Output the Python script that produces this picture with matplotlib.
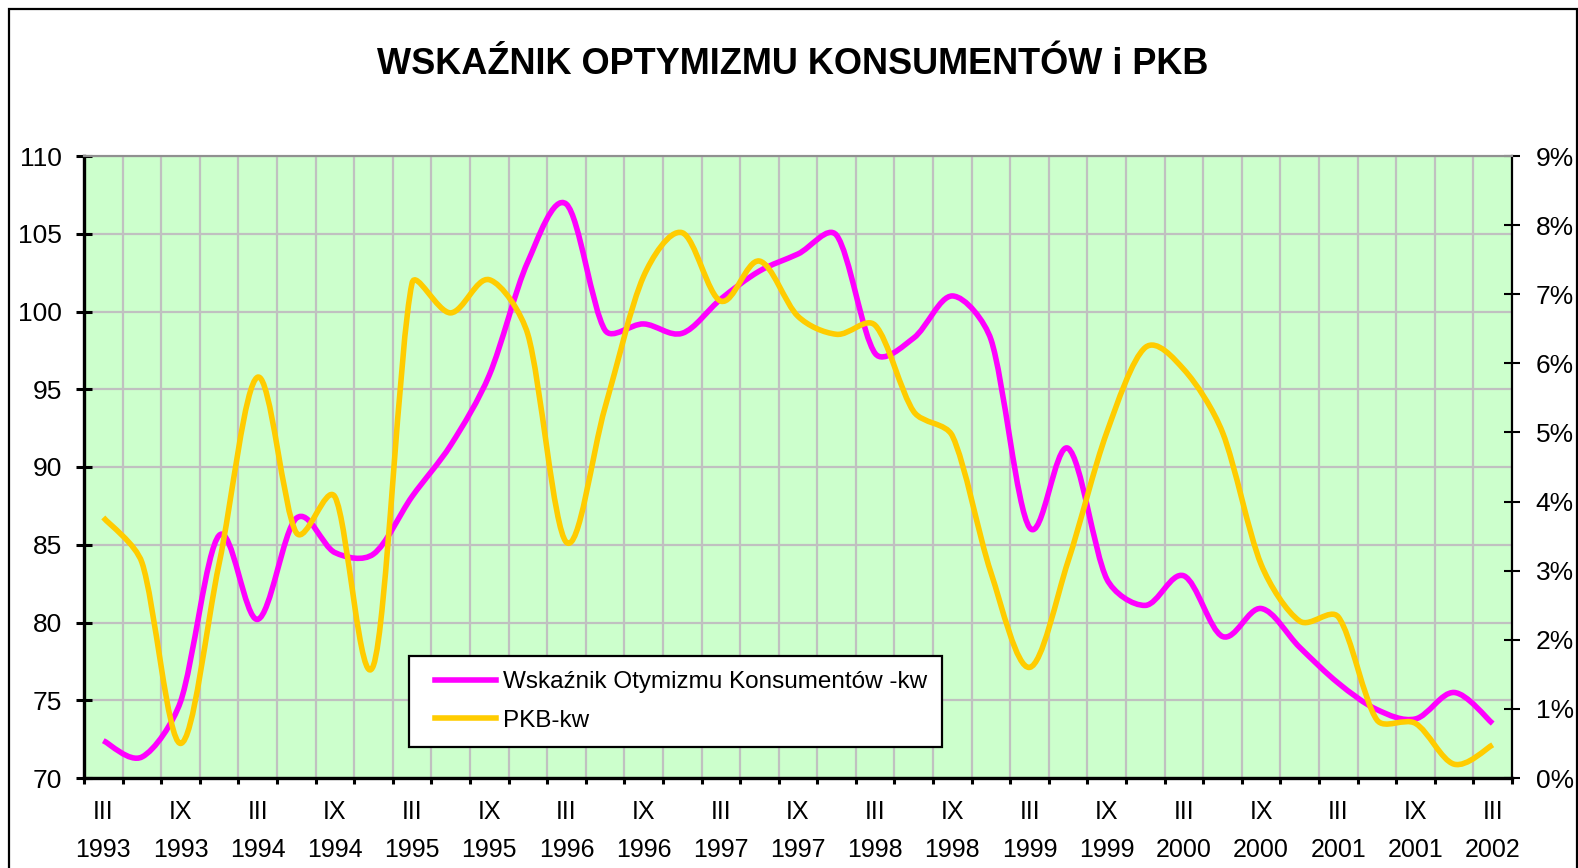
import math
import matplotlib
matplotlib.use("Agg")
import matplotlib.pyplot as plt
from matplotlib.path import Path
from matplotlib.patches import PathPatch, Rectangle
from matplotlib.lines import Line2D
from matplotlib.legend_handler import HandlerLine2D
from matplotlib.ticker import FixedLocator, FuncFormatter

plt.rcParams['font.family'] = ['Liberation Sans', 'DejaVu Sans']

# ---- data (quarterly) ----
quarters = ["III", "VI", "IX", "XII"]
years = list(range(1993, 2003))
categories = [f"{q} {y}" for y in years for q in quarters][:37]

optimism = [72.4, 71.35, 74.9, 85.6, 80.2, 86.7, 84.5, 84.4, 88.1, 91.4,
            95.9, 103.2, 106.9, 98.8, 99.2, 98.6, 100.8, 102.6, 103.7, 104.9,
            97.3, 98.3, 101.0, 98.2, 86.1, 91.2, 82.8, 81.1, 83.0, 79.1,
            80.9, 78.4, 76.1, 74.4, 73.8, 75.5, 73.5]
pkb = [3.77, 3.12, 0.50, 3.10, 5.80, 3.55, 4.07, 1.63, 7.16, 6.73,
       7.21, 6.42, 3.41, 5.36, 7.26, 7.89, 6.90, 7.48, 6.68, 6.42,
       6.55, 5.30, 4.95, 2.97, 1.60, 3.14, 5.00, 6.23, 5.91, 5.00,
       3.09, 2.27, 2.33, 0.84, 0.79, 0.20, 0.48]

left_ticks = [70, 75, 80, 85, 90, 95, 100, 105, 110]
right_ticks = [0, 1, 2, 3, 4, 5, 6, 7, 8, 9]

title = "WSKAŹNIK OPTYMIZMU KONSUMENTÓW i PKB"
label_opt = "Wskaźnik Otymizmu Konsumentów -kw"
label_pkb = "PKB-kw"

C_MAG = "#FF00FF"
C_YEL = "#FFCC00"
C_BG = "#CCFFCC"
C_GRID = "#C0C0C0"


def smooth_path(axis, xs, ys):
    """Smoothed line (Bezier segments) through the data points, shaped in screen space."""
    tr = axis.transData
    P = tr.transform(list(zip(xs, ys)))
    n = len(P)

    def sub(a, b):
        return (a[0] - b[0], a[1] - b[1])

    def norm(v):
        return math.hypot(v[0], v[1])

    tang = []
    for i in range(n):
        a = P[max(i - 1, 0)]
        b = P[min(i + 1, n - 1)]
        v = sub(b, a)
        tang.append((v, norm(v)))

    verts = [tuple(P[0])]
    for i in range(n - 1):
        chord = norm(sub(P[i + 1], P[i]))
        v0, l0 = tang[i]
        v1, l1 = tang[i + 1]
        s0 = min(l0 / 6.0, chord / 3.0) / l0 if l0 > 0 else 0
        s1 = min(l1 / 6.0, chord / 3.0) / l1 if l1 > 0 else 0
        c1 = (P[i][0] + v0[0] * s0, P[i][1] + v0[1] * s0)
        c2 = (P[i + 1][0] - v1[0] * s1, P[i + 1][1] - v1[1] * s1)
        verts += [c1, c2, tuple(P[i + 1])]
    data_verts = tr.inverted().transform(verts)
    codes = [Path.MOVETO] + [Path.CURVE4] * (3 * (n - 1))
    return Path(data_verts, codes)


class ShiftedLineHandler(HandlerLine2D):
    def __init__(self, shift=0.0, **kw):
        super().__init__(**kw)
        self.shift = shift

    def create_artists(self, legend, orig_handle, xdescent, ydescent, width,
                       height, fontsize, trans):
        arts = super().create_artists(legend, orig_handle, xdescent, ydescent,
                                      width, height, fontsize, trans)
        for a in arts:
            xd = list(a.get_xdata())
            if len(xd) >= 2:
                xd[0] = xd[0] + self.shift
                a.set_xdata(xd)
        return arts


W, H = 1578, 868
fig = plt.figure(figsize=(W / 100, H / 100), dpi=100)
fig.patch.set_facecolor("white")

L, R, T, B = 84, 1512, 156, 778
ax = fig.add_axes([L / W, 1 - B / H, (R - L) / W, (B - T) / H])
ax.set_facecolor(C_BG)
ax2 = ax.twinx()

x = list(range(len(categories)))

ax.set_xlim(-0.5, len(categories) - 0.5)
ax.set_ylim(70, 110)
ax2.set_ylim(0, 9)
ax2.set_xlim(-0.5, len(categories) - 0.5)

LW = 4.0
p1 = PathPatch(smooth_path(ax, x, optimism), fill=False, edgecolor=C_MAG, lw=LW,
               capstyle='butt', joinstyle='round', zorder=3)
ax.add_patch(p1)
p2 = PathPatch(smooth_path(ax2, x, pkb), fill=False, edgecolor=C_YEL, lw=LW,
               capstyle='butt', joinstyle='round', zorder=3)
ax2.add_patch(p2)

# x axis: tick marks between categories, labels on every other category
ax.xaxis.set_minor_locator(FixedLocator([i - 0.5 for i in range(len(categories) + 1)]))
ax.xaxis.set_major_locator(FixedLocator(list(range(0, len(categories), 2))))
ax.xaxis.set_major_formatter(FuncFormatter(
    lambda v, pos: categories[int(round(v))].replace(" ", "\n")))
ax.tick_params(axis='x', which='major', length=0, pad=16, labelsize=18)
ax.tick_params(axis='x', which='minor', direction='out', length=4.5, width=2.2)
for lab in ax.get_xticklabels():
    lab.set_linespacing(1.72)

ax.set_yticks(left_ticks)
ax.tick_params(axis='y', which='major', direction='inout', length=12.2, width=2.2,
               pad=10, labelsize=19)
ax2.set_yticks(right_ticks)
ax2.set_yticklabels([f"{v}%" for v in right_ticks])
ax2.tick_params(axis='y', which='major', direction='inout', length=12.2, width=1.5,
                pad=11, labelsize=19)

# grid
ax.grid(True, axis='x', which='minor', color=C_GRID, lw=1.6, zorder=1)
ax.grid(True, axis='y', which='major', color=C_GRID, lw=1.6, zorder=1)
ax.grid(False, axis='x', which='major')
ax.set_axisbelow(True)

# spines
for a in (ax, ax2):
    a.spines['top'].set_color("#909090")
    a.spines['top'].set_linewidth(1.5)
ax.spines['left'].set_linewidth(2.4)
ax.spines['bottom'].set_linewidth(2.4)
ax2.spines['left'].set_visible(False)
ax2.spines['bottom'].set_visible(False)
ax.spines['right'].set_visible(False)
ax2.spines['right'].set_linewidth(1.6)

# title
fig.text(793 / W, 1 - 73.5 / H, title, ha='center', va='baseline',
         fontsize=26, fontweight='bold')

# legend
h1 = Line2D([], [], color=C_MAG, lw=LW)
h2 = Line2D([], [], color=C_YEL, lw=LW)
leg = ax2.legend([h1, h2], [label_opt, label_pkb], loc='upper left',
                 bbox_to_anchor=(409 / W, 1 - 656 / H), bbox_transform=fig.transFigure,
                 borderaxespad=0, fontsize=17.5, handlelength=2.95, handletextpad=0.3,
                 labelspacing=0.68, borderpad=0.62, fancybox=False, framealpha=1,
                 edgecolor='black', facecolor='white',
                 handler_map={Line2D: ShiftedLineHandler(shift=8.0)})
leg.get_frame().set_linewidth(1.6)
leg.set_zorder(10)

# outer frame
fig.patches.append(Rectangle((9 / W, -0.02), (1577 - 9) / W, 1.02 - 9 / H,
                             transform=fig.transFigure, fill=False,
                             edgecolor='black', lw=1.6))

fig.savefig("out.png", dpi=100)
